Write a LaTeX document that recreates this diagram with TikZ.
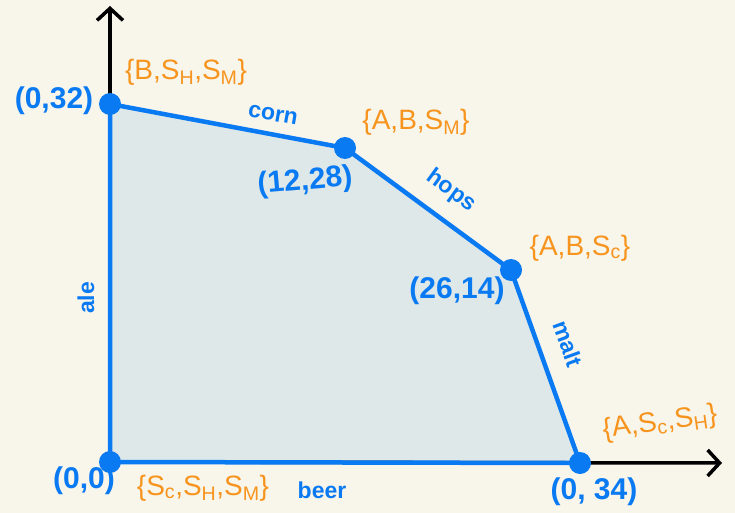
\documentclass[tikz,border=0pt]{standalone}
\usepackage{fontspec}
\setmainfont{Liberation Sans}
\usetikzlibrary{arrows.meta,positioning,calc}
\definecolor{paper}{HTML}{F8F5EA}
\definecolor{region}{HTML}{DEE8E8}
\definecolor{edgeblue}{HTML}{0A7AF3}
\definecolor{setorange}{HTML}{F7941E}
\newcommand{\ssub}[1]{\textsubscript{#1}}
\tikzset{axis/.style={draw=black,line width=3.5pt,-{Straight Barb[length=12pt,width=26pt,line width=3.5pt]}},edge/.style={draw=edgeblue,line width=4.5pt,line cap=round},vert/.style={circle,fill=edgeblue,inner sep=0pt,minimum size=22pt},ptlab/.style={text=edgeblue,font=\fontsize{30}{32}\selectfont\bfseries},setlab/.style={text=setorange,font=\fontsize{28}{30}\selectfont},edgelab/.style={text=edgeblue,font=\fontsize{23}{25}\selectfont\bfseries}}

\begin{document}
\begin{tikzpicture}[x=1pt,y=-1pt]
\fill[paper] (0,0) rectangle (735,513);
\useasboundingbox (0,0) rectangle (735,513);
\coordinate (o) at (110,462);\coordinate (a) at (110,104);\coordinate (b) at (345,148);
\coordinate (c) at (511,270);\coordinate (d) at (580,463);
\coordinate (ytip) at (110,6);\coordinate (xtip) at (722,463);
\fill[region] (o)--(a)--(b)--(c)--(d)--cycle;
\draw[axis] (o)--(ytip);
\draw[axis] (o)--(xtip);
\draw[edge] (o)--(a) (a)--(b) (b)--(c) (c)--(d) (d)--(o);
\foreach \v in {o,a,b,c,d}{\node[vert] (v\v) at (\v) {};}
% corner points
\node[ptlab] (pa) at (54,101) {(0,32)};
\node[ptlab,rotate=5] (pb) at (305,182) {(12,28)};
\node[ptlab] (pc) at (457,291) {(26,14)};
\node[ptlab] (po) at (84,481) {(0,0)};
\node[ptlab] (pd) at (594,492) {(0, 34)};
% tight sets
\node[setlab] (sa) at (186,72) {\{B,S\ssub{H},S\ssub{M}\}};
\node[setlab] (sb) at (416,122) {\{A,B,S\ssub{M}\}};
\node[setlab] (sc) at (580,248) {\{A,B,S\ssub{c}\}};
\node[setlab,rotate=8] (sd) at (660,423) {\{A,S\ssub{c},S\ssub{H}\}};
\node[setlab] (so) at (203,488) {\{S\ssub{c},S\ssub{H},S\ssub{M}\}};
% constraints
\node[edgelab,rotate=-10] (lcorn) at (273,115) {corn};
\node[edgelab,rotate=-36] (lhops) at (451,191) {hops};
\node[edgelab,rotate=-70] (lmalt) at (568,344) {malt};
\node[edgelab,rotate=90] (lale) at (86,298) {ale};
\node[edgelab] (lbeer) at (322,490) {beer};
\end{tikzpicture}
\end{document}
